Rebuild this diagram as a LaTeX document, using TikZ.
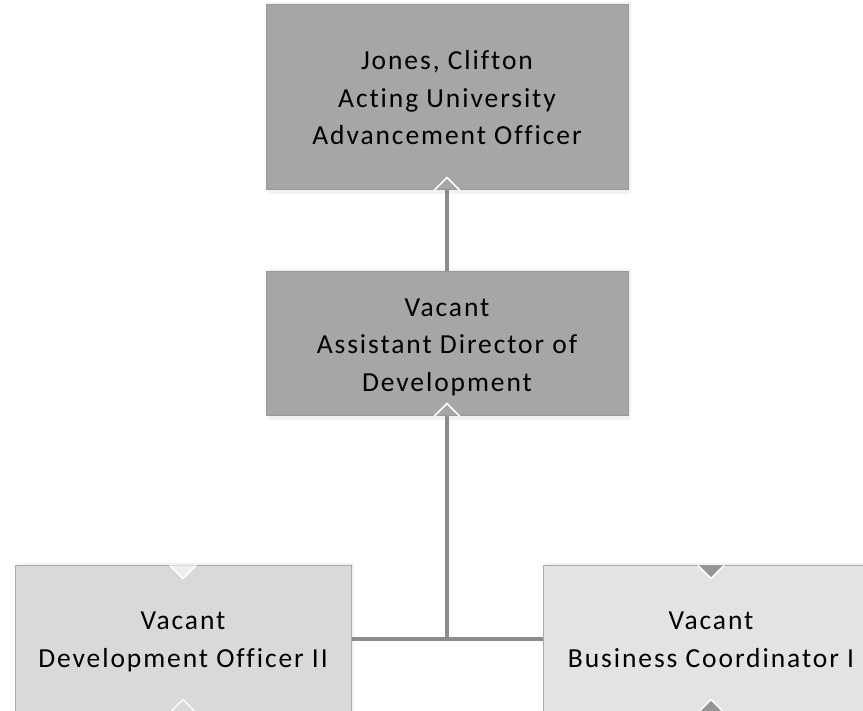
\documentclass[tikz,border=0pt]{standalone}
\usepackage{fontspec}
\setmainfont{Carlito}
\newfontfamily\boxfont[LetterSpace=7,Ligatures=CommonOff]{Carlito}
\usetikzlibrary{positioning}
\definecolor{darkbox}{HTML}{A6A6A6}
\definecolor{darkborder}{HTML}{989898}
\definecolor{leftbox}{HTML}{D9D9D9}
\definecolor{rightbox}{HTML}{E3E3E3}
\definecolor{lightborder}{HTML}{A9A9A9}
\definecolor{conn}{HTML}{8C8C8C}
\definecolor{notchgray}{HTML}{959595}
\newcommand{\ls}{\rule[-9pt]{0pt}{37.5pt}}
\tikzset{
  orgbox/.style={draw, line width=1pt, minimum width=362pt, minimum height=185pt, align=center,
    font=\boxfont\fontsize{27.5}{37.5}\selectfont, inner sep=0pt},
  connector/.style={draw=conn, line width=4pt},
  chevron/.style={draw=white, line width=1.6pt, line join=miter},
}
\begin{document}
\begin{tikzpicture}[x=1pt,y=1pt]
\useasboundingbox (0,0) rectangle (863,711);
% shadows
\fill[black,opacity=0.05] (268,517) rectangle (631,709);
\fill[black,opacity=0.05] (268,291) rectangle (631,442);
\fill[black,opacity=0.05] (17,-5) rectangle (354,148);
\fill[black,opacity=0.05] (545,-5) rectangle (882,148);
% boxes
\node[orgbox, fill=darkbox, draw=darkborder, minimum height=185pt] (top) at (447,613.5)
  {\ls Jones, Clifton\\\ls Acting University\\\ls Advancement Officer};
\node[orgbox, fill=darkbox, draw=darkborder, minimum height=144pt] (mid) at (447,367)
  {\ls Vacant\\\ls Assistant Director of\\\ls Development};
\node[orgbox, fill=leftbox, draw=lightborder, minimum width=336pt, minimum height=146pt] (left) at (183,72)
  {\ls Vacant\\\ls Development Officer II};
\node[orgbox, fill=rightbox, draw=lightborder, minimum width=336pt, minimum height=146pt] (right) at (711,72)
  {\ls Vacant\\\ls Business Coordinator I};
% connectors
\coordinate (jn) at (mid.south |- left.east);
\draw[connector] (mid.north) -- (top.south);
\draw[connector] (mid.south) -- (jn);
\draw[connector] (left.east) -- (right.west);
% notches
\draw[chevron] ([xshift=-13pt]top.south) -- ([yshift=13pt]top.south) -- ([xshift=13pt]top.south);
\draw[chevron] ([xshift=-13pt]mid.south) -- ([yshift=13pt]mid.south) -- ([xshift=13pt]mid.south);
\filldraw[chevron, fill=rightbox!60!white] ([xshift=-13pt]left.north) -- ([yshift=-13pt]left.north) -- ([xshift=13pt]left.north);
\draw[chevron, draw=white!85!leftbox] ([xshift=-13pt]left.south) -- ([yshift=13pt]left.south) -- ([xshift=13pt]left.south);
\filldraw[chevron, fill=notchgray] ([xshift=-13pt]right.north) -- ([yshift=-13pt]right.north) -- ([xshift=13pt]right.north);
\filldraw[chevron, fill=notchgray] ([xshift=-13pt]right.south) -- ([yshift=13pt]right.south) -- ([xshift=13pt]right.south);
\end{tikzpicture}
\end{document}
